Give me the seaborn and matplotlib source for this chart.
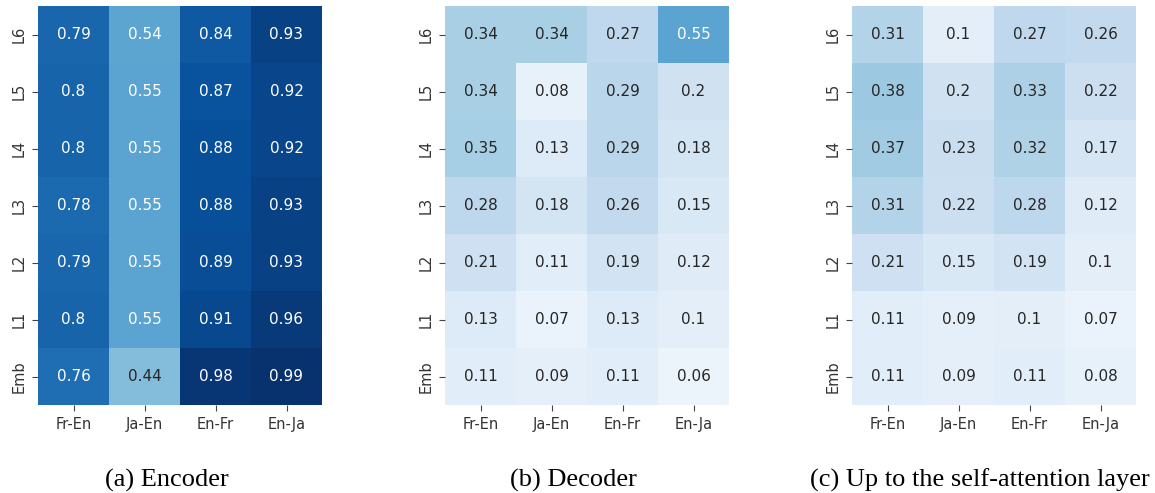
import numpy as np
import pandas as pd
import matplotlib
matplotlib.use("Agg")
import matplotlib.pyplot as plt
import seaborn as sns

# Language pairs (columns) and layers (rows, top to bottom)
pairs = ["Fr-En", "Ja-En", "En-Fr", "En-Ja"]
layers = ["L6", "L5", "L4", "L3", "L2", "L1", "Emb"]

encoder = [
    [0.79, 0.54, 0.84, 0.93],
    [0.80, 0.55, 0.87, 0.92],
    [0.80, 0.55, 0.88, 0.92],
    [0.78, 0.55, 0.88, 0.93],
    [0.79, 0.55, 0.89, 0.93],
    [0.80, 0.55, 0.91, 0.96],
    [0.76, 0.44, 0.98, 0.99],
]
decoder = [
    [0.34, 0.34, 0.27, 0.55],
    [0.34, 0.08, 0.29, 0.20],
    [0.35, 0.13, 0.29, 0.18],
    [0.28, 0.18, 0.26, 0.15],
    [0.21, 0.11, 0.19, 0.12],
    [0.13, 0.07, 0.13, 0.10],
    [0.11, 0.09, 0.11, 0.06],
]
self_attn = [
    [0.31, 0.10, 0.27, 0.26],
    [0.38, 0.20, 0.33, 0.22],
    [0.37, 0.23, 0.32, 0.17],
    [0.31, 0.22, 0.28, 0.12],
    [0.21, 0.15, 0.19, 0.10],
    [0.11, 0.09, 0.10, 0.07],
    [0.11, 0.09, 0.11, 0.08],
]
captions = ["(a) Encoder", "(b) Decoder", "(c) Up to the self-attention layer"]

plt.rcParams["font.family"] = ["DejaVu Sans"]

fig = plt.figure(figsize=(11.55, 4.93), dpi=100)

lefts = [38, 445, 852]
caption_x = [167, 573, 980]
W, H = 1155, 493
ax_w, ax_top, ax_bot = 284, 6, 405

for data, cap, left, cx in zip([encoder, decoder, self_attn], captions, lefts, caption_x):
    ax = fig.add_axes([left / W, (H - ax_bot) / H, ax_w / W, (ax_bot - ax_top) / H])
    df = pd.DataFrame(data, index=layers, columns=pairs)
    sns.heatmap(df, ax=ax, cmap="Blues", vmin=0, vmax=1, annot=True, fmt="g",
                cbar=False, annot_kws={"fontsize": 11, "family": "DejaVu Sans"})
    ax.tick_params(axis="both", labelsize=10.5, length=4.5, width=0.8,
                   color="#444444", labelcolor="#333333", pad=4)
    ax.set_yticklabels(layers, rotation=90, va="center")
    ax.set_xticklabels(pairs, rotation=0)
    fig.text(cx / W, 1 - 480 / H, cap, ha="center", va="center",
             fontsize=19, family="Liberation Serif")

fig.savefig("out.png", dpi=100)
